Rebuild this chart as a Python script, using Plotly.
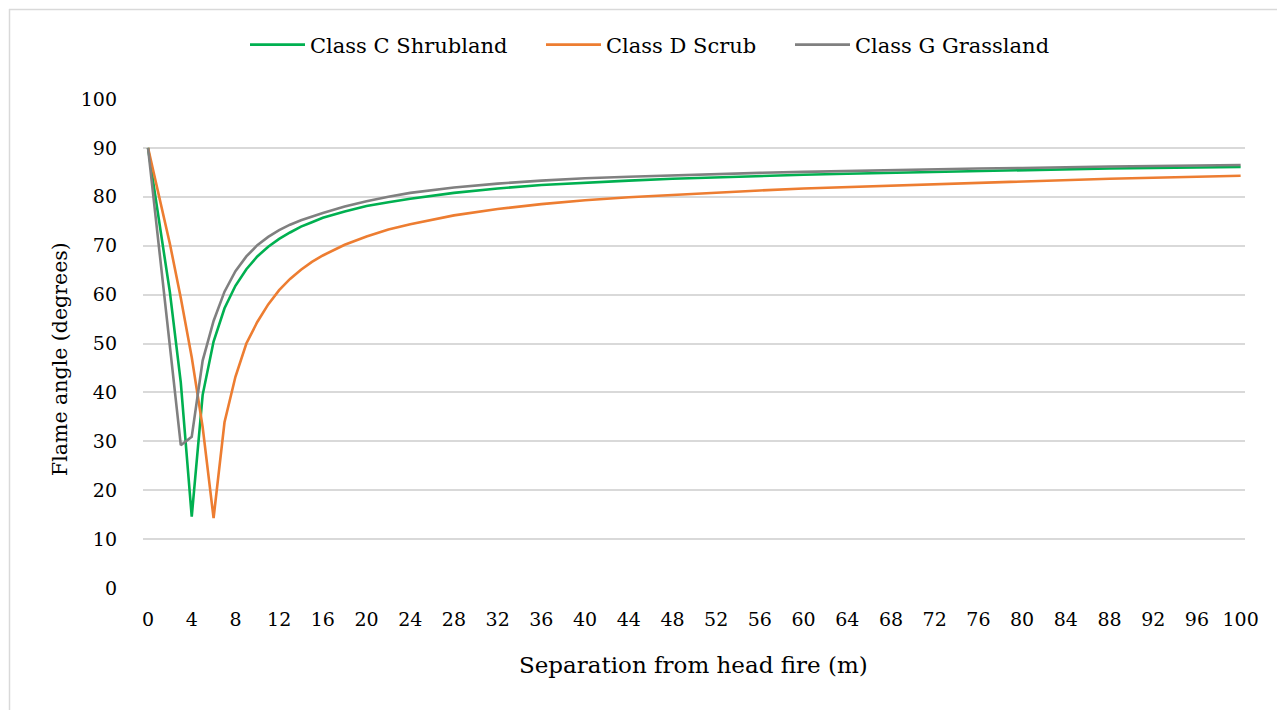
import plotly.graph_objects as go

separation_m = [0, 1, 2, 3, 4, 5, 6, 7, 8, 9, 10, 11, 12, 13, 14, 15, 16, 18, 20, 22, 24,
                28, 32, 36, 40, 44, 48, 52, 56, 60, 64, 68, 72, 76, 80, 84, 88, 92, 96, 100]

class_c_shrubland = [90, 75.5, 60.5, 42.0, 14.6, 39.5, 50.4, 57.2, 61.8, 65.2, 67.8, 69.8, 71.4,
                     72.7, 73.9, 74.8, 75.7, 77.0, 78.1, 78.9, 79.6,
                     80.8, 81.7, 82.4, 82.9, 83.3, 83.7, 84.0, 84.3, 84.5, 84.7, 84.9, 85.1,
                     85.3, 85.5, 85.6, 85.8, 85.9, 86.0, 86.1]

class_d_scrub = [90, 80.3, 70.4, 59.3, 47.2, 32.9, 14.3, 33.9, 43.2, 50.0, 54.4, 58.0, 60.9,
                 63.2, 65.1, 66.7, 68.0, 70.2, 71.9, 73.3, 74.4,
                 76.2, 77.5, 78.5, 79.3, 79.9, 80.4, 80.9, 81.3, 81.7, 82.0, 82.3, 82.6,
                 82.8, 83.1, 83.4, 83.7, 83.9, 84.1, 84.3]

class_g_grassland = [90, 69.7, 49.5, 29.2, 30.9, 46.5, 54.6, 60.6, 64.8, 67.8, 70.1, 71.8, 73.2,
                     74.3, 75.2, 76.0, 76.7, 78.0, 79.1, 80.0, 80.8,
                     81.9, 82.7, 83.3, 83.8, 84.1, 84.4, 84.7, 84.9, 85.1, 85.3, 85.5, 85.6,
                     85.8, 85.9, 86.1, 86.2, 86.3, 86.4, 86.5]

x_ticks = list(range(0, 101, 4))
y_ticks = list(range(0, 101, 10))

FONT = "DejaVu Serif"
TICK_FS = 19
LEG_FS = 21
XTITLE_FS = 23
YTITLE_FS = 20.5

fig = go.Figure()
fig.add_trace(go.Scatter(x=separation_m, y=class_c_shrubland, mode="lines",
                         name="Class C Shrubland", line=dict(color="#00B050", width=2.6),
                         legend="legend", showlegend=True))
fig.add_trace(go.Scatter(x=separation_m, y=class_d_scrub, mode="lines",
                         name="Class D Scrub", line=dict(color="#ED7D31", width=2.6),
                         legend="legend2", showlegend=True))
fig.add_trace(go.Scatter(x=separation_m, y=class_g_grassland, mode="lines",
                         name="Class G Grassland", line=dict(color="#808080", width=2.6),
                         legend="legend3", showlegend=True))

# The page body has an 8px margin, so the figure is drawn offset by 8px.
OFF = 8
W, H = 1285, 710
PL, PR, PT, PB = 143, 1245, 99, 588          # plot area in screenshot pixels
L, R, T, B = PL - OFF, W - (PR - OFF), PT - OFF, H - (PB - OFF)
pw, ph = PR - PL, PB - PT


def px(xpix):
    return (xpix - PL) / pw


def py(ypix):
    return (PB - ypix) / ph


def cx(xpix):
    return (xpix - OFF) / W


def cy(ypix):
    return 1 - (ypix - OFF) / H


leg_common = dict(orientation="h", yanchor="middle", xanchor="left",
                  xref="container", yref="container",
                  font=dict(family=FONT, size=LEG_FS, color="#000000"),
                  bgcolor="rgba(0,0,0,0)", itemwidth=55)

fig.update_layout(
    width=W, height=H,
    margin=dict(l=L, r=R, t=T, b=B, autoexpand=False),
    plot_bgcolor="white", paper_bgcolor="white",
    showlegend=True,
    font=dict(family=FONT, size=TICK_FS, color="#000000"),
    legend=dict(x=cx(245), y=cy(45), **leg_common),
    legend2=dict(x=cx(541), y=cy(45), **leg_common),
    legend3=dict(x=cx(790), y=cy(45), **leg_common),
    xaxis=dict(range=[-0.46, 100.4], tickmode="array", tickvals=x_ticks,
               ticktext=[str(v) for v in x_ticks], showgrid=False, zeroline=False,
               showline=False, ticks="", ticklabelstandoff=18,
               tickfont=dict(family=FONT, size=TICK_FS, color="#000000")),
    yaxis=dict(range=[0, 100], tickmode="array", tickvals=y_ticks,
               ticktext=[str(v) for v in y_ticks], showgrid=True, gridcolor="#D9D9D9",
               gridwidth=1.5, zeroline=False, showline=False, ticks="",
               ticklabelstandoff=25,
               tickfont=dict(family=FONT, size=TICK_FS, color="#000000")),
    annotations=[
        dict(text="Separation from head fire (m)", xref="paper", yref="paper",
             x=px(693), y=py(665), xanchor="center", yanchor="middle", showarrow=False,
             font=dict(family=FONT, size=XTITLE_FS, color="#000000")),
        dict(text="Flame angle (degrees)", xref="paper", yref="paper",
             x=px(60), y=py(359), xanchor="center", yanchor="middle", showarrow=False,
             textangle=-90, font=dict(family=FONT, size=YTITLE_FS, color="#000000")),
    ],
    shapes=[
        dict(type="line", xref="paper", yref="paper", x0=px(9), x1=px(1300),
             y0=py(9.5), y1=py(9.5), line=dict(color="#D9D9D9", width=1.5)),
        dict(type="line", xref="paper", yref="paper", x0=px(9.5), x1=px(9.5),
             y0=py(9), y1=py(730), line=dict(color="#D9D9D9", width=1.5)),
    ],
)

fig.write_html("out.html")
